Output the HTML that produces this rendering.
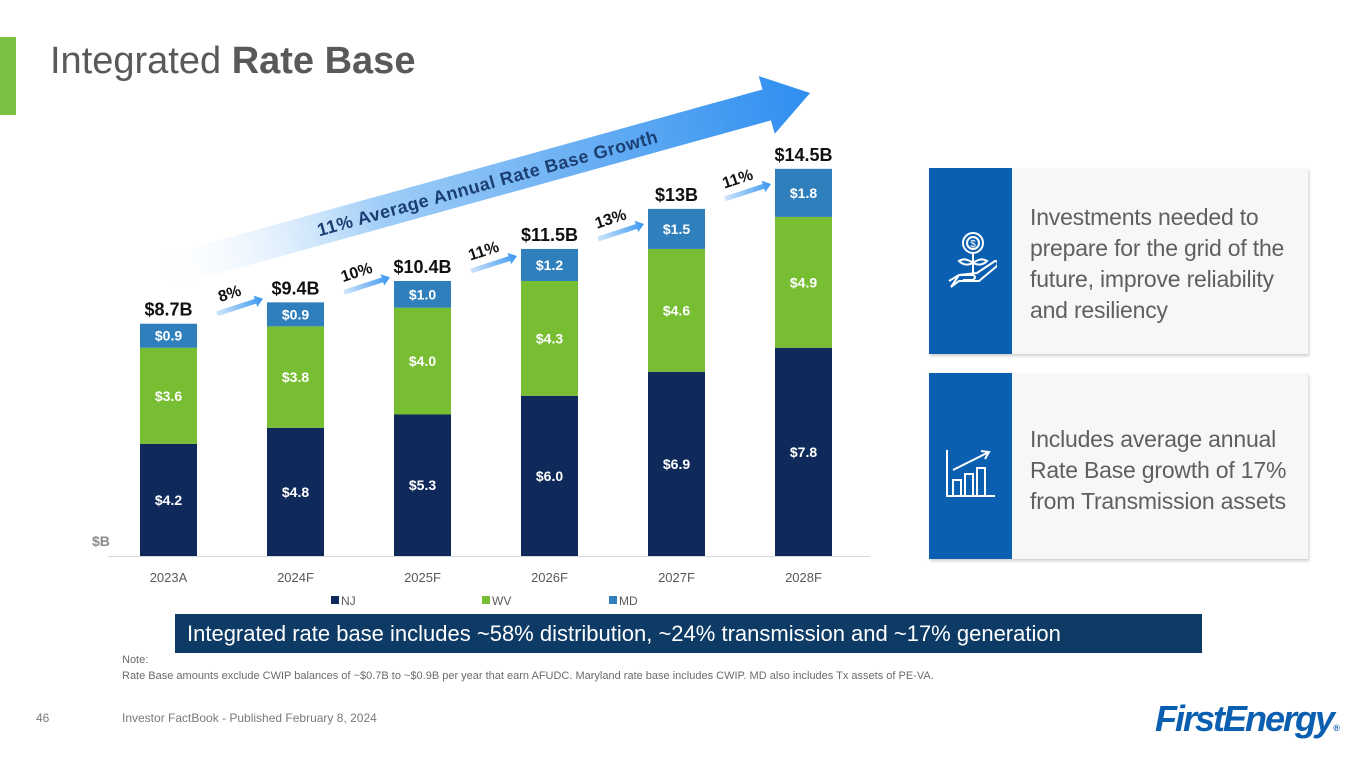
<!DOCTYPE html>
<html><head><meta charset="utf-8"><style>
body{margin:0;width:1365px;height:768px;background:#fff;font-family:"Liberation Sans",sans-serif;overflow:hidden;position:relative}
.abs{position:absolute}
.panel{position:absolute;left:929px;width:379px;height:186px;background:#f7f7f7;box-shadow:1px 2px 3px rgba(0,0,0,.2)}
.panel .blk{position:absolute;left:0;top:0;width:83px;height:100%;background:#0b5fb0}
.panel .txt{position:absolute;left:101px;font-family:"Liberation Sans Narrow","Liberation Sans",sans-serif;font-size:23px;line-height:31px;color:#5f5f5f;letter-spacing:-0.2px}
</style></head><body>
<div class="abs" style="left:0;top:37px;width:16px;height:78px;background:#7ac143"></div>
<div class="abs" style="left:50px;top:40px;font-size:38px;color:#595959">Integrated <b>Rate Base</b></div>

<svg class="abs" style="left:0;top:0" width="900" height="620">
<defs>
<linearGradient id="ag" x1="0" x2="1" y1="0" y2="0"><stop offset="0" stop-color="#fff" stop-opacity="0"/><stop offset="0.35" stop-color="#9fcdf7"/><stop offset="1" stop-color="#2e8ef0"/></linearGradient>
<linearGradient id="sg" x1="0" x2="1"><stop offset="0" stop-color="#cfe6fb"/><stop offset="1" stop-color="#3a97ef"/></linearGradient>
</defs>
<g transform="translate(150,276) rotate(-15.5)">
<polygon points="0,-16 640,-16 640,-30 685,0 640,30 640,16 0,16" fill="url(#ag)"/>
<text x="350" y="7" text-anchor="middle" font-size="18" font-weight="bold" fill="#1b3f73" letter-spacing="0.5">11% Average Annual Rate Base Growth</text>
</g>
<g id="bars"></g>
</svg>

<div class="panel" style="top:168px">
<div class="blk"></div>
<svg class="abs" style="left:18px;top:55px" width="50" height="80" fill="none" stroke="#fff" stroke-width="2">
<circle cx="26" cy="20" r="10"/><circle cx="26" cy="20" r="6"/><text x="26" y="24" font-size="10" fill="#fff" stroke="none" text-anchor="middle">$</text>
<path d="M26 30 V52 M26 40 q-8 -6 -14 -2 q6 6 14 2 M26 40 q8 -6 14 -2 q-6 6 -14 2"/>
<path d="M2 58 l10 -6 h14 q4 2 0 5 h-10 M12 52 l18 -2 l18 -12 q4 0 2 5 l-18 15 h-20 l-8 6 z"/>
</svg>
<div class="txt" style="top:34px">Investments needed to<br>prepare for the grid of the<br>future, improve reliability<br>and resiliency</div>
</div>
<div class="panel" style="top:373px">
<div class="blk"></div>
<svg class="abs" style="left:16px;top:75px" width="52" height="52" fill="none" stroke="#fff" stroke-width="2">
<path d="M2 2 V48 H50"/><rect x="8" y="32" width="8" height="16"/><rect x="20" y="26" width="8" height="22"/><rect x="32" y="20" width="8" height="28"/><path d="M8 22 L44 4 M36 3 L44 4 L40 11"/>
</svg>
<div class="txt" style="top:51px">Includes average annual<br>Rate Base growth of 17%<br>from Transmission assets</div>
</div>

<div class="abs" style="left:175px;top:614px;width:1027px;height:39px;background:#0d3b66;color:#fff;font-size:22px;line-height:39px;padding-left:12px;box-sizing:border-box">Integrated rate base includes ~58% distribution, ~24% transmission and ~17% generation</div>
<div class="abs" style="left:122px;top:652px;font-size:11px;color:#6b6b6b;line-height:16px">Note:<br>Rate Base amounts exclude CWIP balances of ~$0.7B to ~$0.9B per year that earn AFUDC. Maryland rate base includes CWIP. MD also includes Tx assets of PE-VA.</div>
<div class="abs" style="left:36px;top:711px;font-size:12px;color:#7a7a7a">46</div>
<div class="abs" style="left:122px;top:711px;font-size:12px;color:#7a7a7a">Investor FactBook - Published February 8, 2024</div>
<div class="abs" style="left:1155px;top:698px;font-size:36px;font-weight:bold;font-style:italic;color:#0b5fb0;letter-spacing:-2px">FirstEnergy<span style="font-size:9px;letter-spacing:0">®</span></div>

<script>
const categories=["2023A","2024F","2025F","2026F","2027F","2028F"];
const nj=[4.2,4.8,5.3,6.0,6.9,7.8];
const wv=[3.6,3.8,4.0,4.3,4.6,4.9];
const md=[0.9,0.9,1.0,1.2,1.5,1.8];
const totalLabels=["$8.7B","$9.4B","$10.4B","$11.5B","$13B","$14.5B"];
const growthLabels=["8%","10%","11%","13%","11%"];
const NS="http://www.w3.org/2000/svg";
const g=document.getElementById('bars');
const base=556,scale=26.7,x0=140,step=127,bw=57;
const xOf=i=>x0+i*step;
const yOf=v=>base-v*scale;
function mk(t,a){const e=document.createElementNS(NS,t);for(const k in a)e.setAttribute(k,a[k]);g.appendChild(e);return e;}
const series=[[nj,"#0f2a5a","nj"],[wv,"#78be32","wv"],[md,"#2f7fbd","md"]];
const tops=[];
categories.forEach((c,i)=>{
 let cum=0;
 series.forEach(([arr,col,nm])=>{
  const v=arr[i];
  const r=mk('rect',{x:xOf(i),y:yOf(cum+v),width:bw,height:v*scale,fill:col});
  
  
  const t=mk('text',{x:xOf(i)+bw/2,y:yOf(cum+v/2)+5,'text-anchor':'middle','font-size':14,'font-weight':'bold',fill:'#fff'});
  t.textContent='$'+v.toFixed(1);
  
  
  cum+=v;
 });
 tops.push(yOf(cum));
 const tl=mk('text',{x:xOf(i)+bw/2,y:yOf(cum)-8,'text-anchor':'middle','font-size':18,'font-weight':'bold',fill:'#111'});
 tl.textContent=totalLabels[i];
 
 
 const cl=mk('text',{x:xOf(i)+bw/2,y:582,'text-anchor':'middle','font-size':13,fill:'#595959'});
 cl.textContent=c;
 
 
});
growthLabels.forEach((p,i)=>{
 const xa=xOf(i)+bw+20,xb=xOf(i+1)-4,ya=tops[i]-10;
 const gg=document.createElementNS(NS,'g');g.appendChild(gg);
 
 
 const ang=-18;
 const len=(xb-xa)/Math.cos(ang*Math.PI/180);
 gg.setAttribute('transform',`translate(${xa},${ya}) rotate(${ang})`);
 gg.innerHTML=`<polygon points="0,-2.5 ${len-8},-2.5 ${len-8},-6 ${len},0 ${len-8},6 ${len-8},2.5 0,2.5" fill="url(#sg)"/><text x="${len/2-6}" y="-10" text-anchor="middle" font-size="16" font-weight="bold" fill="#111">${p}</text>`;
});
const yl=mk('text',{x:92,y:546,'font-size':14,'font-weight':'bold',fill:'#8a8a8a'});yl.textContent='$B';


mk('line',{x1:108,x2:870,y1:556.5,y2:556.5,stroke:'#d9d9d9'});
[["NJ","#0f2a5a",331],["WV","#78be32",482],["MD","#2f7fbd",609]].forEach(([n,c,x])=>{
 const r=mk('rect',{x:x,y:596,width:8,height:8,fill:c});
 
 
 const t=mk('text',{x:x+10,y:605,'font-size':12,fill:'#595959'});t.textContent=n;
 
 
});
</script>
</body></html>
